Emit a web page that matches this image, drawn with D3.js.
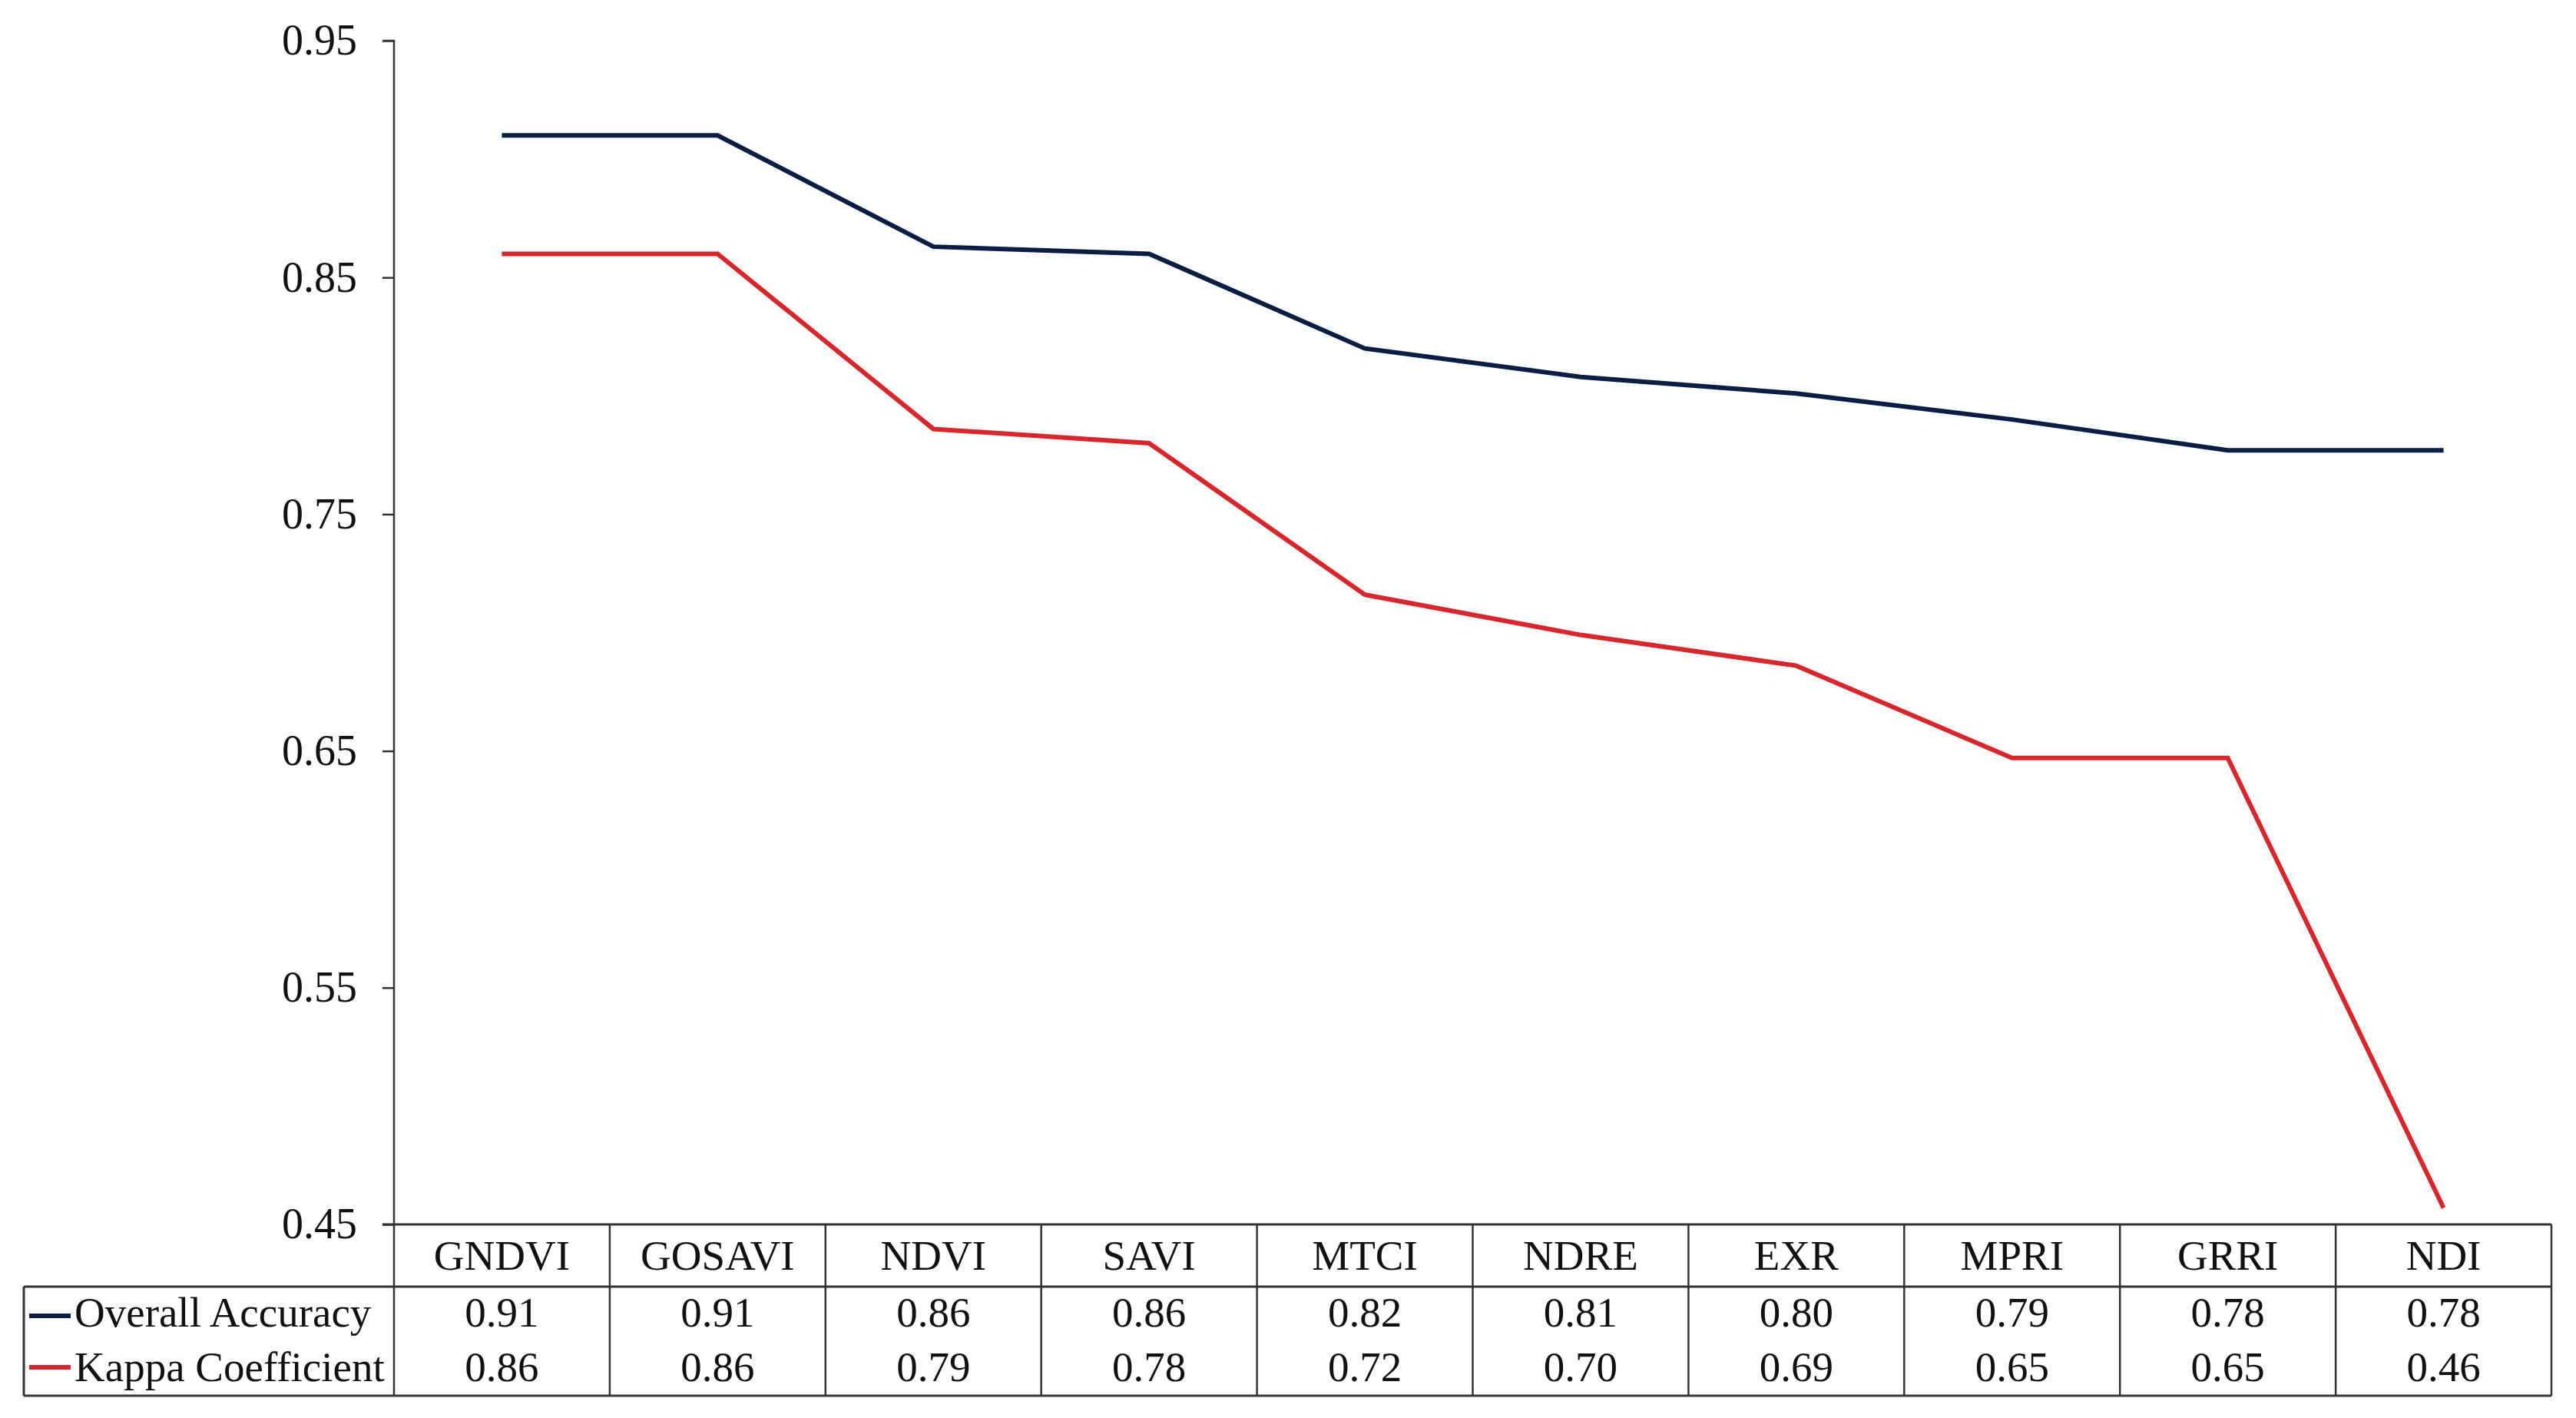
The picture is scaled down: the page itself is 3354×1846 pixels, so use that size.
<!DOCTYPE html>
<html>
<head>
<meta charset="utf-8">
<script src="https://cdn.jsdelivr.net/npm/d3@7"></script>
<style>
  html, body { margin: 0; padding: 0; background: #ffffff; }
  svg { display: block; }
</style>
</head>
<body>
<svg id="chart" width="3354" height="1846"></svg>
<script>
// ---- data ----
const categories = ["GNDVI", "GOSAVI", "NDVI", "SAVI", "MTCI", "NDRE", "EXR", "MPRI", "GRRI", "NDI"];
const seriesNames = ["Overall Accuracy", "Kappa Coefficient"];
const overallAccuracy = [0.910, 0.910, 0.863, 0.860, 0.820, 0.808, 0.801, 0.790, 0.777, 0.777];
const kappaCoefficient = [0.860, 0.860, 0.786, 0.780, 0.716, 0.699, 0.686, 0.647, 0.647, 0.457];
const overallAccuracyLabels = ["0.91", "0.91", "0.86", "0.86", "0.82", "0.81", "0.80", "0.79", "0.78", "0.78"];
const kappaCoefficientLabels = ["0.86", "0.86", "0.79", "0.78", "0.72", "0.70", "0.69", "0.65", "0.65", "0.46"];
const yTicks = [0.45, 0.55, 0.65, 0.75, 0.85, 0.95];

// ---- layout ----
const FONT = "'Liberation Serif', 'Times New Roman', serif";
const axisX = 513, rightX = 3322, topY = 53, baseY = 1594;
const tableLeft = 31, headerBottom = 1675, tableBottom = 1817;
const colors = ["#0b1d42", "#d7262c"];

const svg = d3.select("#chart");
svg.append("rect").attr("width", 3354).attr("height", 1846).attr("fill", "#ffffff");

const x = d3.scaleBand().domain(categories).range([axisX, rightX]).padding(0);
const y = d3.scaleLinear().domain([0.45, 0.95]).range([baseY, topY]);

// y axis
const yAxis = d3.axisLeft(y)
  .tickValues(yTicks)
  .tickFormat(d3.format(".2f"))
  .tickSize(15)
  .tickPadding(33);
const gy = svg.append("g").attr("transform", `translate(${axisX},0)`).call(yAxis);
gy.select(".domain").attr("stroke", "#333").attr("stroke-width", 2.5)
  .attr("d", `M-15,${topY}H0V${baseY}`);
gy.selectAll(".tick line").attr("stroke", "#333").attr("stroke-width", 2.5);
gy.selectAll(".tick text")
  .attr("font-family", FONT).attr("font-size", 56).attr("fill", "#111");

// lines
const series = [overallAccuracy, kappaCoefficient];
const line = d3.line()
  .x((d, i) => x(categories[i]) + x.bandwidth() / 2)
  .y(d => y(d));
series.forEach((vals, s) => {
  svg.append("path")
    .datum(vals)
    .attr("d", line)
    .attr("fill", "none")
    .attr("stroke", colors[s])
    .attr("stroke-width", 6)
    .attr("stroke-linejoin", "miter");
});

// ---- data table ----
const gridColor = "#333";
const gt = svg.append("g");
// horizontal lines
gt.append("line").attr("x1", axisX - 15).attr("x2", rightX).attr("y1", baseY).attr("y2", baseY)
  .attr("stroke", gridColor).attr("stroke-width", 3);
gt.append("line").attr("x1", tableLeft).attr("x2", rightX).attr("y1", headerBottom).attr("y2", headerBottom)
  .attr("stroke", gridColor).attr("stroke-width", 3);
gt.append("line").attr("x1", tableLeft).attr("x2", rightX).attr("y1", tableBottom).attr("y2", tableBottom)
  .attr("stroke", gridColor).attr("stroke-width", 3);
// left border of legend rows
gt.append("line").attr("x1", tableLeft).attr("x2", tableLeft).attr("y1", headerBottom).attr("y2", tableBottom)
  .attr("stroke", gridColor).attr("stroke-width", 3);
// column dividers
const dividers = categories.map(c => x(c)).concat([rightX]);
gt.selectAll("line.div").data(dividers).enter().append("line")
  .attr("class", "div")
  .attr("x1", d => d).attr("x2", d => d)
  .attr("y1", baseY).attr("y2", tableBottom)
  .attr("stroke", gridColor).attr("stroke-width", 2.5);

// header labels
gt.selectAll("text.cat").data(categories).enter().append("text")
  .attr("class", "cat")
  .attr("x", d => x(d) + x.bandwidth() / 2)
  .attr("y", 1653)
  .attr("text-anchor", "middle")
  .attr("font-family", FONT).attr("font-size", 55).attr("fill", "#111")
  .text(d => d);

// row values
const rowLabels = [overallAccuracyLabels, kappaCoefficientLabels];
const rowBaselines = [1727, 1798];
const keyY = [1713, 1780];
rowLabels.forEach((labels, r) => {
  gt.selectAll(`text.v${r}`).data(labels).enter().append("text")
    .attr("class", `v${r}`)
    .attr("x", (d, i) => x(categories[i]) + x.bandwidth() / 2)
    .attr("y", rowBaselines[r])
    .attr("text-anchor", "middle")
    .attr("font-family", FONT).attr("font-size", 55).attr("fill", "#111")
    .text(d => d);
  // legend key
  gt.append("line")
    .attr("x1", 38).attr("x2", 92)
    .attr("y1", keyY[r]).attr("y2", keyY[r])
    .attr("stroke", colors[r]).attr("stroke-width", 6);
  gt.append("text")
    .attr("x", 97).attr("y", rowBaselines[r])
    .attr("font-family", FONT).attr("font-size", 55).attr("fill", "#111")
    .text(seriesNames[r]);
});
</script>
</body>
</html>
